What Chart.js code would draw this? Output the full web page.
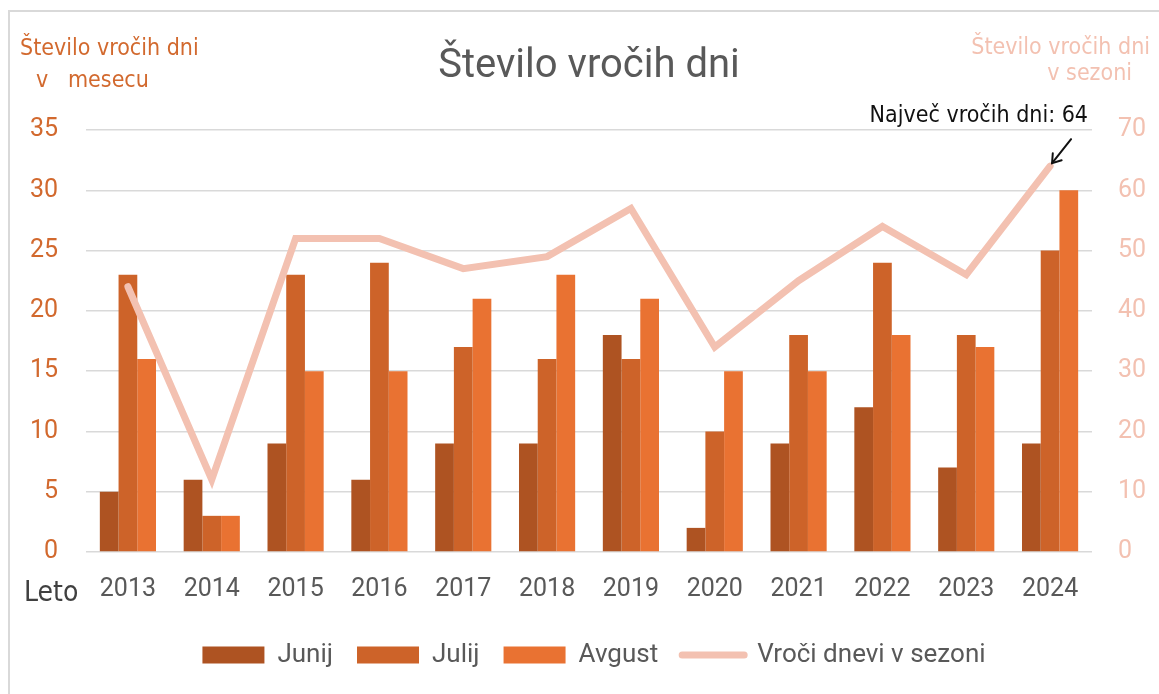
<!DOCTYPE html>
<html>
<head>
<meta charset="utf-8">
<script src="https://cdn.jsdelivr.net/npm/chart.js@4.4.1/dist/chart.umd.min.js"></script>
<style>
  html, body { margin: 0; padding: 0; background: #ffffff; }
  #wrap { width: 1159px; height: 694px; position: relative; }
</style>
</head>
<body>
<div id="wrap"><canvas id="c" width="1159" height="694"></canvas></div>
<script>
// ---- data ----
const categories = ['2013','2014','2015','2016','2017','2018','2019','2020','2021','2022','2023','2024'];
const junij  = [5, 6, 9, 6, 9, 9, 18, 2, 9, 12, 7, 9];
const julij  = [23, 3, 23, 24, 17, 16, 16, 10, 18, 24, 18, 25];
const avgust = [16, 3, 15, 15, 21, 23, 21, 15, 15, 18, 17, 30];
const sezona = [44, 12, 52, 52, 47, 49, 57, 34, 45, 54, 46, 64];
const seriesNames = ['Junij', 'Julij', 'Avgust', 'Vroči dnevi v sezoni'];
const leftTicks = [0, 5, 10, 15, 20, 25, 30, 35];
const rightTicks = [0, 10, 20, 30, 40, 50, 60, 70];

const FONT = 'Roboto, "Liberation Sans", sans-serif';
const HAND = '"DejaVu Sans Condensed", "Noto Sans", sans-serif';
const C_JUN = '#AE5322';
const C_JUL = '#CD6329';
const C_AVG = '#E97232';
const C_LINE = '#F3C1B1';
const C_LEFT = '#D2692E';
const C_TEXT = '#595959';

const decor = {
  id: 'decor',
  beforeDraw(chart) {
    const ctx = chart.ctx;
    ctx.save();
    ctx.fillStyle = '#ffffff';
    ctx.fillRect(0, 0, chart.width, chart.height);
    ctx.strokeStyle = '#d9d9d9';
    ctx.lineWidth = 2;
    ctx.beginPath();
    ctx.moveTo(9, 700);
    ctx.lineTo(9, 11);
    ctx.lineTo(1170, 11);
    ctx.stroke();
    ctx.restore();
  },
  afterDraw(chart) {
    const ctx = chart.ctx;
    const area = chart.chartArea;
    ctx.save();
    // title
    ctx.fillStyle = C_TEXT;
    ctx.font = '40px ' + FONT;
    ctx.textAlign = 'center';
    ctx.textBaseline = 'alphabetic';
    ctx.fillText('Število vročih dni', (area.left + area.right) / 2, 77);

    // axis captions
    ctx.font = '23px ' + HAND;
    ctx.textAlign = 'left';
    ctx.fillStyle = C_LEFT;
    ctx.fillText('Število vročih dni', 20, 55);
    ctx.fillText('v   mesecu', 36, 87);
    ctx.fillStyle = C_LINE;
    ctx.textAlign = 'right';
    ctx.fillText('Število vročih dni', 1150, 54);
    ctx.fillText('v sezoni', 1132, 80);

    ctx.textAlign = 'left';
    ctx.fillStyle = '#404040';
    ctx.font = '28px ' + HAND;
    ctx.fillText('Leto', 24, 601);

    // annotation for maximum
    const meta = chart.getDatasetMeta(3);
    let maxI = 0;
    sezona.forEach((v, i) => { if (v > sezona[maxI]) maxI = i; });
    const pt = meta.data[maxI];
    ctx.fillStyle = '#111111';
    ctx.font = '23px ' + HAND;
    ctx.textAlign = 'right';
    ctx.fillText('Največ vročih dni: ' + sezona[maxI], 1088, 122);
    const x1 = pt.x + 21, y1 = pt.y - 27, x2 = pt.x + 2, y2 = pt.y - 3;
    ctx.strokeStyle = '#111111';
    ctx.lineWidth = 2;
    ctx.lineCap = 'round';
    ctx.beginPath();
    ctx.moveTo(x1, y1); ctx.lineTo(x2, y2);
    ctx.stroke();
    const ang = Math.atan2(y2 - y1, x2 - x1);
    ctx.beginPath();
    ctx.moveTo(x2 + 10 * Math.cos(ang + Math.PI - 0.6), y2 + 10 * Math.sin(ang + Math.PI - 0.6));
    ctx.lineTo(x2, y2);
    ctx.lineTo(x2 + 10 * Math.cos(ang + Math.PI + 0.6), y2 + 10 * Math.sin(ang + Math.PI + 0.6));
    ctx.stroke();
    ctx.restore();
  }
};

const chart = new Chart(document.getElementById('c'), {
  type: 'bar',
  data: {
    labels: categories,
    datasets: [
      { label: seriesNames[0], data: junij, backgroundColor: C_JUN, yAxisID: 'y', order: 1, borderWidth: 0 },
      { label: seriesNames[1], data: julij, backgroundColor: C_JUL, yAxisID: 'y', order: 1, borderWidth: 0 },
      { label: seriesNames[2], data: avgust, backgroundColor: C_AVG, yAxisID: 'y', order: 1, borderWidth: 0 },
      { label: seriesNames[3], data: sezona, type: 'line', yAxisID: 'y2', order: 0,
        borderColor: C_LINE, backgroundColor: C_LINE, borderWidth: 7, pointRadius: 0, tension: 0,
        borderJoinStyle: 'miter', borderCapStyle: 'round' }
    ]
  },
  options: {
    responsive: false,
    animation: false,
    devicePixelRatio: 1,
    layout: { padding: { top: 130, left: 29, right: 0, bottom: 16 } },
    datasets: { bar: { categoryPercentage: 0.67, barPercentage: 1.0 } },
    plugins: {
      title: { display: false },
      tooltip: { enabled: false },
      legend: {
        position: 'bottom',
        labels: {
          usePointStyle: true,
          pointStyleWidth: 62,
          boxHeight: 17,
          padding: 24,
          color: C_TEXT,
          font: { family: FONT, size: 26 },
          sort: (a, b) => a.datasetIndex - b.datasetIndex,
          generateLabels(chart) {
            return chart.data.datasets.map((ds, i) => ({
              text: ds.label,
              datasetIndex: i,
              fillStyle: ds.type === 'line' ? C_LINE : ds.backgroundColor,
              strokeStyle: ds.type === 'line' ? C_LINE : ds.backgroundColor,
              lineWidth: ds.type === 'line' ? 7 : 0,
              lineCap: 'round',
              pointStyle: ds.type === 'line' ? 'line' : 'rect',
              fontColor: C_TEXT,
              hidden: false
            }));
          }
        }
      }
    },
    scales: {
      x: {
        grid: { display: false },
        border: { display: false },
        ticks: { color: C_TEXT, font: { family: FONT, size: 25 }, padding: 15, maxRotation: 0 },
        afterFit(s) { s.height = 66; }
      },
      y: {
        position: 'left',
        min: 0, max: 35,
        afterBuildTicks(s) { s.ticks = leftTicks.map(v => ({ value: v })); },
        grid: { color: '#d9d9d9', lineWidth: 1.5, drawTicks: false },
        border: { display: false },
        ticks: { color: C_LEFT, font: { family: FONT, size: 25 }, padding: 28 },
        afterFit(s) { s.width = 57; }
      },
      y2: {
        position: 'right',
        min: 0, max: 70,
        afterBuildTicks(s) { s.ticks = rightTicks.map(v => ({ value: v })); },
        grid: { display: false, drawTicks: false },
        border: { display: false },
        ticks: { color: C_LINE, font: { family: FONT, size: 25 }, padding: 26 },
        afterFit(s) { s.width = 67; }
      }
    }
  },
  plugins: [decor]
});
</script>
</body>
</html>
